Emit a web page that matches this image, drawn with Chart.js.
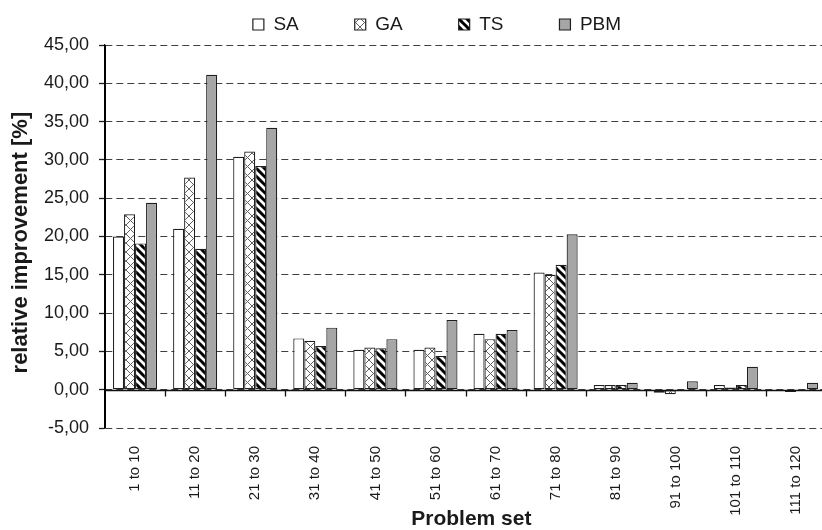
<!DOCTYPE html>
<html>
<head>
<meta charset="utf-8">
<script src="https://cdn.jsdelivr.net/npm/chart.js@4"></script>
<style>
html,body{margin:0;padding:0;overflow:hidden;background:#fff;width:822px;height:530px}
canvas{display:block}
</style>
</head>
<body>
<canvas id="c" width="826" height="530"></canvas>
<script>
// ---- data ----
const categories = ['1 to 10','11 to 20','21 to 30','31 to 40','41 to 50','51 to 60','61 to 70','71 to 80','81 to 90','91 to 100','101 to 110','111 to 120'];
const seriesNames = ['SA','GA','TS','PBM'];
const saValues  = [20.0, 21.0, 30.4, 6.7, 5.2, 5.2, 7.3, 15.3, 0.6, -0.4, 0.6, -0.1];
const gaValues  = [22.9, 27.7, 31.1, 6.4, 5.5, 5.5, 6.6, 15.0, 0.6, -0.6, 0.3, -0.3];
const tsValues  = [19.1, 18.4, 29.2, 5.7, 5.4, 4.4, 7.3, 16.3, 0.6, 0.0, 0.6, -0.1];
const pbmValues = [24.4, 41.1, 34.2, 8.1, 6.6, 9.1, 7.8, 20.3, 0.9, 1.1, 3.0, 0.9];
const yMin = -5, yMax = 45, yStep = 5;
const xTitle = '\u00a0\u00a0Problem set';
const yTitle = 'relative improvement [%]\u00a0\u00a0';

const FONT = "'Liberation Sans', Arial, sans-serif";
const INK = '#1a1a1a';

function makePattern(kind) {
  const size = kind === 'cross' ? 9 : 8;
  const c = document.createElement('canvas');
  c.width = size; c.height = size;
  const g = c.getContext('2d');
  g.fillStyle = '#ffffff';
  g.fillRect(0, 0, size, size);
  if (kind === 'stripe') {
    g.strokeStyle = '#000000';
    g.lineWidth = 3;
    g.beginPath();
    for (let o = -size; o <= size; o += size) {
      g.moveTo(o - 1, -1); g.lineTo(o + size + 1, size + 1);
    }
    g.stroke();
  } else if (kind === 'cross') {
    g.strokeStyle = '#5e5e5e';
    g.lineWidth = 1;
    g.beginPath();
    for (let o = -size; o <= size; o += size) {
      g.moveTo(o - 1, -1); g.lineTo(o + size + 1, size + 1);
      g.moveTo(o - 1, size + 1); g.lineTo(o + size + 1, -1);
    }
    g.stroke();
  }
  return c.getContext('2d').createPattern(c, 'repeat');
}

const ctx = document.getElementById('c').getContext('2d');
const fills = ['#ffffff', makePattern('cross'), makePattern('stripe'), '#a6a6a6'];
const seriesValues = [saValues, gaValues, tsValues, pbmValues];

const axesPlugin = {
  id: 'zeroAxis',
  afterDraw(chart) {
    const {ctx, chartArea, scales: {x, y}} = chart;
    const y0 = Math.round(y.getPixelForValue(0)) + 0.5;
    const lx = Math.round(chartArea.left);
    const top = y.getPixelForValue(yMax);
    const bot = y.getPixelForValue(yMin);
    ctx.save();
    ctx.setLineDash([]);
    ctx.fillStyle = '#000000';
    ctx.fillRect(lx - 1, top, 2, bot - top);
    ctx.strokeStyle = '#111111';
    ctx.lineWidth = 1.3;
    ctx.beginPath();
    ctx.moveTo(chartArea.left, y0);
    ctx.lineTo(chartArea.right, y0);
    const n = x.ticks.length;
    for (let i = 1; i <= n; i++) {
      const bx = i < n ? (x.getPixelForTick(i - 1) + x.getPixelForTick(i)) / 2 : chartArea.right;
      ctx.moveTo(Math.round(bx) + 0.5, y0);
      ctx.lineTo(Math.round(bx) + 0.5, y0 + 6);
    }
    ctx.stroke();
    ctx.restore();
  }
};

const legendShiftPlugin = {
  id: 'legendShift',
  afterLayout(chart) {
    const lg = chart.legend;
    if (!lg) return;
    lg.left += 24; lg.right += 24;
    lg.top = 15 - lg.options.labels.padding;
  }
};

new Chart(ctx, {
  type: 'bar',
  data: {
    labels: categories,
    datasets: seriesNames.map((name, i) => ({
      label: name,
      data: seriesValues[i],
      backgroundColor: fills[i],
      borderColor: '#1f1f1f',
      borderWidth: 1.2,
      borderSkipped: false,
      categoryPercentage: 0.733,
      barPercentage: 1.0
    }))
  },
  plugins: [axesPlugin, legendShiftPlugin],
  options: {
    responsive: false,
    animation: false,
    layout: { padding: 0 },
    plugins: {
      tooltip: { enabled: false },
      legend: {
        position: 'top',
        maxHeight: 45,
        labels: {
          color: INK,
          font: { family: FONT, size: 19 },
          boxWidth: 11,
          boxHeight: 11,
          padding: 56
        }
      }
    },
    scales: {
      x: {
        offset: true,
        grid: { display: false },
        border: { display: false },
        ticks: {
          autoSkip: false, minRotation: 90, maxRotation: 90, padding: 10,
          color: INK, font: { family: FONT, size: 15 }
        },
        title: {
          display: true, text: xTitle, color: INK,
          font: { family: FONT, size: 21, weight: 'bold', lineHeight: 1 },
          padding: { top: 0, bottom: 0 }
        },
        afterFit(s) { s.height = 102; }
      },
      y: {
        min: yMin, max: yMax,
        ticks: {
          stepSize: yStep, padding: 10, color: INK,
          font: { family: FONT, size: 18 },
          callback: v => Number(v).toFixed(2).replace('.', ',')
        },
        grid: { color: '#404040', lineWidth: 1, tickLength: 6, tickColor: '#1f1f1f', tickWidth: 1.3 },
        border: { display: true, color: '#1f1f1f', width: 1.3, dash: [7, 4] },
        title: {
          display: true, text: yTitle, color: INK,
          font: { family: FONT, size: 22, weight: 'bold', lineHeight: 1 },
          padding: { top: 10, bottom: 0 }
        },
        afterFit(s) { s.width = 105; }
      }
    }
  }
});
</script>
</body>
</html>
